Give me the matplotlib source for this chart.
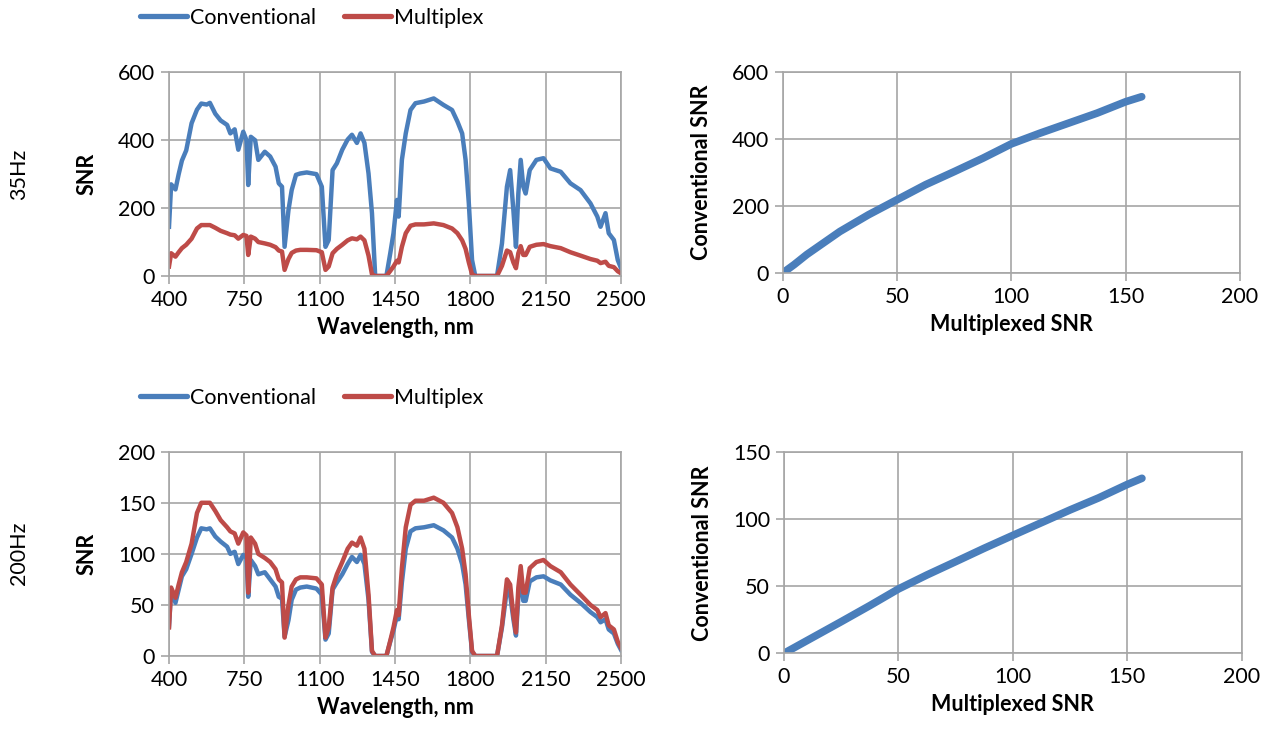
import matplotlib
matplotlib.use("Agg")
import matplotlib.pyplot as plt
from matplotlib.lines import Line2D

plt.rcParams['font.family'] = ['Lato', 'DejaVu Sans']

# ---------------- data ----------------
wavelength = [400, 410, 430, 445, 460, 480, 505, 530, 550, 575, 590, 615, 640, 670, 685,
              705, 722, 745, 760, 768, 780, 800, 815, 845, 870, 895, 910, 925, 937, 955,
              970, 990, 1010, 1040, 1085, 1110, 1127, 1142, 1160, 1180, 1205, 1230, 1250,
              1273, 1290, 1308, 1327, 1343, 1358, 1380, 1410, 1428, 1443, 1459, 1467,
              1482, 1500, 1522, 1545, 1585, 1630, 1675, 1715, 1740, 1762, 1778, 1793,
              1808, 1823, 1860, 1924, 1947, 1970, 1985, 2000, 2012, 2023, 2034, 2046,
              2057, 2076, 2107, 2140, 2172, 2220, 2265, 2312, 2358, 2390, 2405, 2428,
              2443, 2467, 2485, 2500]

conv_35hz = [145, 270, 255, 300, 340, 370, 450, 490, 508, 505, 510, 478, 458, 445, 420,
             432, 372, 425, 400, 268, 410, 400, 342, 366, 352, 322, 273, 263, 86, 194,
             253, 298, 302, 305, 300, 263, 86, 106, 312, 332, 372, 402, 416,
             392, 420, 392, 302, 185, 0, 0, 0, 67, 126, 224, 175,
             342, 420, 489, 509, 514, 523, 504, 489, 455, 420, 342, 214,
             47, 0, 0, 0, 96, 263, 312, 194, 86, 243, 342, 263,
             243, 312, 342, 347, 317, 307, 273, 253, 214, 175, 145, 185,
             126, 106, 47, 23]

multiplex = [28, 67, 57, 70, 82, 92, 110, 140, 150, 150, 150, 142, 133, 126, 122,
             120, 110, 121, 118, 62, 116, 110, 100, 96, 92, 85, 75, 72, 18, 50,
             68, 75, 77, 77, 76, 70, 18, 28, 67, 80, 92, 105, 111,
             108, 116, 105, 60, 5, 0, 0, 0, 15, 28, 45, 40,
             86, 126, 148, 152, 152, 155, 150, 140, 126, 105, 80, 40,
             5, 0, 0, 0, 30, 75, 70, 40, 23, 67, 88, 62,
             62, 86, 92, 94, 88, 82, 70, 60, 50, 45, 38, 42,
             30, 26, 14, 8]

conv_200hz = [29, 65, 52, 65, 78, 85, 100, 116, 125, 124, 125, 117, 112, 107, 100,
              102, 90, 99, 96, 58, 94, 88, 80, 82, 75, 68, 58, 56, 19, 35,
              55, 65, 67, 68, 66, 60, 16, 22, 65, 72, 80, 90, 97,
              92, 99, 90, 55, 4, 0, 0, 0, 14, 25, 40, 36,
              72, 105, 122, 125, 126, 128, 123, 116, 105, 90, 70, 36,
              4, 0, 0, 0, 28, 65, 60, 36, 20, 58, 75, 54,
              54, 73, 77, 78, 74, 70, 60, 52, 43, 38, 33, 36,
              26, 22, 12, 6]

# relationship
scatter_mult_35 = [0, 5, 10.5, 25, 37.5, 50, 62.5, 75, 87.5, 100, 112.5, 125, 137.5, 150, 157]
scatter_conv_35 = [0, 25, 55, 124, 174, 219, 264, 303, 343, 386, 418, 448, 478, 512, 527]
scatter_mult_200 = [0, 25, 37.5, 50, 62.5, 75, 87.5, 100, 112.5, 125, 137.5, 150, 156.4]
scatter_conv_200 = [0, 23.6, 35.6, 48, 58.5, 68.4, 78.4, 88, 97.5, 107, 116, 126, 130.6]

wl_ticks = [400, 750, 1100, 1450, 1800, 2150, 2500]
series_labels = ['Conventional', 'Multiplex']
row_labels = ['35Hz', '200Hz']

BLUE = '#4A7EBB'
RED = '#BE4B48'
GRID = '#A6A6A6'
FS = 15.5

W, H = 1274, 746
fig = plt.figure(figsize=(W / 100, H / 100), dpi=100)


def axes_px(x0, y_top, x1, y_bot):
    return fig.add_axes([x0 / W, 1 - y_bot / H, (x1 - x0) / W, (y_bot - y_top) / H])


def style(ax):
    for s in ax.spines.values():
        s.set_color(GRID)
        s.set_linewidth(1.2)
    ax.grid(True, color=GRID, linewidth=1.2)
    ax.set_axisbelow(True)
    ax.tick_params(direction='out', length=6, width=1.2, color=GRID,
                   labelsize=FS, pad=4)
    ax.tick_params(axis='both', which='both', top=False, right=False)


ax1 = axes_px(169, 72.3, 621, 276)
ax3 = axes_px(169, 451.7, 621, 656)
ax2 = axes_px(782.7, 72.3, 1240, 273)
ax4 = axes_px(784, 452.3, 1241.7, 653.3)

ax1.plot(wavelength, conv_35hz, color=BLUE, lw=3.2, solid_joinstyle='round')
ax1.plot(wavelength, multiplex, color=RED, lw=3.2, solid_joinstyle='round')
ax1.set_ylim(0, 600)
ax1.set_yticks([0, 200, 400, 600])

ax3.plot(wavelength, conv_200hz, color=BLUE, lw=3.2, solid_joinstyle='round')
ax3.plot(wavelength, multiplex, color=RED, lw=3.2, solid_joinstyle='round')
ax3.set_ylim(0, 200)
ax3.set_yticks([0, 50, 100, 150, 200])

for ax in (ax1, ax3):
    ax.set_xlim(400, 2500)
    ax.set_xticks(wl_ticks)
    ax.set_xlabel('Wavelength, nm', fontsize=FS, fontweight='bold', labelpad=5)
    ax.set_ylabel('SNR', fontsize=FS, fontweight='bold', labelpad=15)
    style(ax)

ax2.plot(scatter_mult_35, scatter_conv_35, color=BLUE, lw=5.5,
         solid_capstyle='round', solid_joinstyle='round')
ax2.set_ylim(0, 600)
ax2.set_yticks([0, 200, 400, 600])

ax4.plot(scatter_mult_200, scatter_conv_200, color=BLUE, lw=5.5,
         solid_capstyle='round', solid_joinstyle='round')
ax4.set_ylim(0, 150)
ax4.set_yticks([0, 50, 100, 150])

for ax in (ax2, ax4):
    ax.set_xlim(0, 200)
    ax.set_xticks([0, 50, 100, 150, 200])
    ax.set_xlabel('Multiplexed SNR', fontsize=FS, fontweight='bold', labelpad=5)
    ax.set_ylabel('Conventional SNR', fontsize=FS, fontweight='bold', labelpad=14)
    style(ax)

handles = [Line2D([], [], color=BLUE, lw=3.8, solid_capstyle='round'),
           Line2D([], [], color=RED, lw=3.8, solid_capstyle='round')]
for ytop in (0, 380):
    fig.legend(handles, series_labels, loc='center left',
               bbox_to_anchor=(140 / W, 1 - (ytop + 18) / H), ncol=2, frameon=False,
               fontsize=FS, handlelength=2.2, handletextpad=0.12, columnspacing=1.3,
               borderaxespad=0, borderpad=0)

fig.text(19 / W, 1 - 174 / H, row_labels[0], rotation=90, fontsize=FS,
         ha='center', va='center')
fig.text(19 / W, 1 - 553 / H, row_labels[1], rotation=90, fontsize=FS,
         ha='center', va='center')

fig.savefig('out.png', dpi=100)
